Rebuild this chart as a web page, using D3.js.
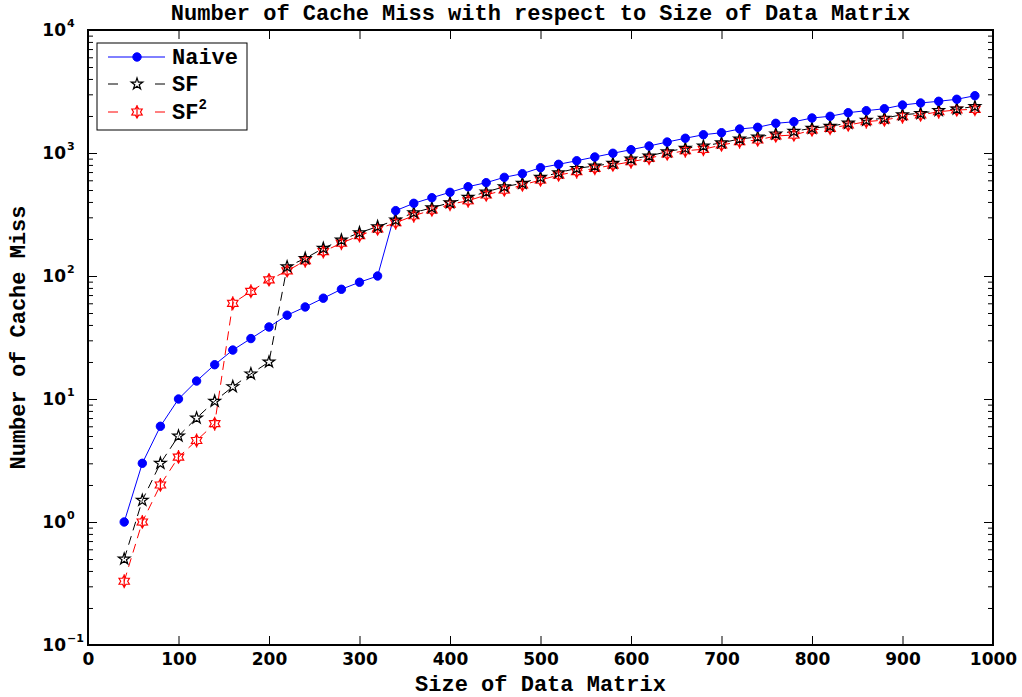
<!DOCTYPE html>
<html>
<head>
<meta charset="utf-8">
<script src="https://cdn.jsdelivr.net/npm/d3@7"></script>
<style>
  html, body { margin: 0; padding: 0; background: #fff; }
  svg { display: block; }
</style>
</head>
<body>
<svg id="chart" width="1022" height="697"></svg>
<script>
const sizes = [40, 60, 80, 100, 120, 140, 160, 180, 200, 220, 240, 260, 280, 300, 320, 340,
  360, 380, 400, 420, 440, 460, 480, 500, 520, 540, 560, 580, 600, 620, 640, 660, 680, 700,
  720, 740, 760, 780, 800, 820, 840, 860, 880, 900, 920, 940, 960, 980];

const naive = [1, 3, 6, 10, 14, 19, 25, 31, 38.5, 48, 56, 66, 78, 89, 100,
  340, 390, 433, 479, 532, 574, 634, 679, 759, 809, 865, 928, 995, 1064, 1140, 1228,
  1318, 1408, 1462, 1567, 1618, 1743, 1795, 1926, 1988, 2127, 2208, 2291, 2456, 2551, 2633, 2734, 2923];

const sf = [0.5, 1.5, 3, 5, 7, 9.6, 12.6, 16, 20,
  119, 139, 168, 196, 225, 252, 285, 327, 359, 394, 436, 482, 532, 567, 634, 692, 750, 784, 825, 893, 946, 1025,
  1092, 1140, 1210, 1300, 1350, 1430, 1500, 1590, 1650, 1750, 1850, 1920, 2050, 2100, 2220, 2280, 2390];

const sf2 = [0.33, 1.0, 2.0, 3.37, 4.6, 6.3,
  60, 75, 93, 110, 133, 158, 185, 213, 241, 271, 309, 344, 383, 409, 456, 500, 549, 603, 662, 705, 750, 798, 849, 906, 982,
  1044, 1072, 1161, 1236, 1276, 1375, 1400, 1538, 1588, 1690, 1797, 1854, 1972, 2037, 2166, 2237, 2265];

const xTicks = [0, 100, 200, 300, 400, 500, 600, 700, 800, 900, 1000];
const yTicks = [0.1, 1, 10, 100, 1000, 10000];
const yExponents = ["\u22121", "0", "1", "2", "3", "4"];

const titleText = "Number of Cache Miss with respect to Size of Data Matrix";
const xLabel = "Size of Data Matrix";
const yLabel = "Number of Cache Miss";
const seriesNames = ["Naive", "SF", "SF"];

const margin = {left: 88, right: 29, top: 30, bottom: 52};
const W = 1022, H = 697;
const svg = d3.select("#chart");

const x = d3.scaleLinear().domain([0, 1000]).range([margin.left, W - margin.right]);
const y = d3.scaleLog().domain([0.1, 10000]).range([H - margin.bottom, margin.top]);

const monoFont = "'Liberation Mono', 'DejaVu Sans Mono', monospace";
const tickFont = "'DejaVu Sans', sans-serif";

// minor ticks for log axis
const minorTicks = [];
for (let e = -1; e < 4; e++) {
  for (let m = 2; m <= 9; m++) minorTicks.push(m * Math.pow(10, e));
}

// Axes (ticks inside)
const gB = svg.append("g").attr("transform", `translate(0,${y.range()[0]})`)
  .call(d3.axisBottom(x).tickValues(xTicks).tickSize(-9).tickPadding(8).tickFormat(d3.format("d")));
const gT = svg.append("g").attr("transform", `translate(0,${y.range()[1]})`)
  .call(d3.axisTop(x).tickValues(xTicks).tickSize(-9).tickFormat(""));
const gL = svg.append("g").attr("transform", `translate(${x.range()[0]},0)`)
  .call(d3.axisLeft(y).tickValues(yTicks).tickSize(-9).tickFormat(""));
const gR = svg.append("g").attr("transform", `translate(${x.range()[1]},0)`)
  .call(d3.axisRight(y).tickValues(yTicks).tickSize(-9).tickFormat(""));
const gLm = svg.append("g").attr("transform", `translate(${x.range()[0]},0)`)
  .call(d3.axisLeft(y).tickValues(minorTicks).tickSize(-5).tickFormat(""));
const gRm = svg.append("g").attr("transform", `translate(${x.range()[1]},0)`)
  .call(d3.axisRight(y).tickValues(minorTicks).tickSize(-5).tickFormat(""));

[gB, gT, gL, gR, gLm, gRm].forEach(g => {
  g.select(".domain").remove();
  g.selectAll(".tick line").attr("stroke", "#000").attr("stroke-width", 1);
});
gB.selectAll(".tick text")
  .attr("font-family", tickFont).attr("font-weight", "bold").attr("font-size", 17).attr("fill", "#000");

// y tick labels 10^n
const yl = svg.append("g");
yTicks.forEach((t, i) => {
  const ty = y(t);
  yl.append("text").attr("x", 66).attr("y", ty + 5.5).attr("text-anchor", "end")
    .attr("font-family", tickFont).attr("font-weight", "bold").attr("font-size", 17).text("10");
  yl.append("text").attr("x", 67).attr("y", ty - 3)
    .attr("font-family", tickFont).attr("font-weight", "bold").attr("font-size", 11).text(yExponents[i]);
});

// frame
svg.append("rect")
  .attr("x", x.range()[0]).attr("y", y.range()[1])
  .attr("width", x.range()[1] - x.range()[0]).attr("height", y.range()[0] - y.range()[1])
  .attr("fill", "none").attr("stroke", "#000").attr("stroke-width", 2);

const clip = svg.append("g");

const line = d3.line().x(d => x(d[0])).y(d => y(d[1]));
const dNaive = sizes.map((s, i) => [s, naive[i]]);
const dSf = sizes.map((s, i) => [s, sf[i]]);
const dSf2 = sizes.map((s, i) => [s, sf2[i]]);

// lines
clip.append("path").datum(dSf2).attr("d", line).attr("fill", "none")
  .attr("stroke", "#ff0000").attr("stroke-width", 1).attr("stroke-dasharray", "9,6");
clip.append("path").datum(dSf).attr("d", line).attr("fill", "none")
  .attr("stroke", "#000").attr("stroke-width", 1).attr("stroke-dasharray", "9,6");
clip.append("path").datum(dNaive).attr("d", line).attr("fill", "none")
  .attr("stroke", "#0000ff").attr("stroke-width", 1);

// marker shapes
const starPath = d3.symbol().type(d3.symbolStar).size(42)();
function hexagramPath(R, r) {
  const pts = [];
  for (let k = 0; k < 12; k++) {
    const a = -Math.PI / 2 + k * Math.PI / 6;
    const rad = k % 2 === 0 ? R : r;
    pts.push([rad * Math.cos(a), rad * Math.sin(a)]);
  }
  return "M" + pts.map(p => p[0].toFixed(2) + "," + p[1].toFixed(2)).join("L") + "Z";
}
const hexPath = hexagramPath(6, 3.5) + "M0,-7L0,7";

function drawSf2Marker(g) {
  g.append("path").attr("d", hexPath).attr("fill", "none").attr("stroke", "#ff0000").attr("stroke-width", 1.2);
}
function drawSfMarker(g) {
  g.append("path").attr("d", starPath).attr("fill", "none").attr("stroke", "#000").attr("stroke-width", 1.2);
}
function drawNaiveMarker(g) {
  g.append("circle").attr("r", 4.2).attr("fill", "#0000ff").attr("stroke", "#0000ff");
}

clip.selectAll("g.m-sf2").data(dSf2).join("g").attr("class", "m-sf2")
  .attr("transform", d => `translate(${x(d[0])},${y(d[1])})`).each(function() { drawSf2Marker(d3.select(this)); });
clip.selectAll("g.m-sf").data(dSf).join("g").attr("class", "m-sf")
  .attr("transform", d => `translate(${x(d[0])},${y(d[1])})`).each(function() { drawSfMarker(d3.select(this)); });
clip.selectAll("g.m-naive").data(dNaive).join("g").attr("class", "m-naive")
  .attr("transform", d => `translate(${x(d[0])},${y(d[1])})`).each(function() { drawNaiveMarker(d3.select(this)); });

// title & labels
svg.append("text").attr("x", (x.range()[0] + x.range()[1]) / 2).attr("y", 20)
  .attr("text-anchor", "middle").attr("font-family", monoFont).attr("font-weight", "bold")
  .attr("font-size", 22).text(titleText);
svg.append("text").attr("x", (x.range()[0] + x.range()[1]) / 2).attr("y", 691)
  .attr("text-anchor", "middle").attr("font-family", monoFont).attr("font-weight", "bold")
  .attr("font-size", 22).text(xLabel);
svg.append("text").attr("transform", `translate(25,${(y.range()[0] + y.range()[1]) / 2}) rotate(-90)`)
  .attr("text-anchor", "middle").attr("font-family", monoFont).attr("font-weight", "bold")
  .attr("font-size", 22).text(yLabel);

// legend
const lg = svg.append("g");
lg.append("rect").attr("x", 97).attr("y", 43).attr("width", 150).attr("height", 87)
  .attr("fill", "#fff").attr("stroke", "#000").attr("stroke-width", 1);
const rows = [57, 84, 112];
// Naive
lg.append("line").attr("x1", 108).attr("x2", 165).attr("y1", rows[0]).attr("y2", rows[0]).attr("stroke", "#0000ff");
drawNaiveMarker(lg.append("g").attr("transform", `translate(137,${rows[0]})`));
// SF
[[108, 118], [155, 165]].forEach(s => lg.append("line").attr("x1", s[0]).attr("x2", s[1])
  .attr("y1", rows[1]).attr("y2", rows[1]).attr("stroke", "#000"));
drawSfMarker(lg.append("g").attr("transform", `translate(137,${rows[1]})`));
// SF2
[[108, 118], [155, 165]].forEach(s => lg.append("line").attr("x1", s[0]).attr("x2", s[1])
  .attr("y1", rows[2]).attr("y2", rows[2]).attr("stroke", "#ff0000"));
drawSf2Marker(lg.append("g").attr("transform", `translate(137,${rows[2]})`));

seriesNames.forEach((n, i) => {
  const t = lg.append("text").attr("x", 172).attr("y", rows[i] + 7)
    .attr("font-family", monoFont).attr("font-weight", "bold").attr("font-size", 22).text(n);
  if (i === 2) {
    t.append("tspan").attr("font-size", 14).attr("dy", -10).text("2");
  }
});
</script>
</body>
</html>
